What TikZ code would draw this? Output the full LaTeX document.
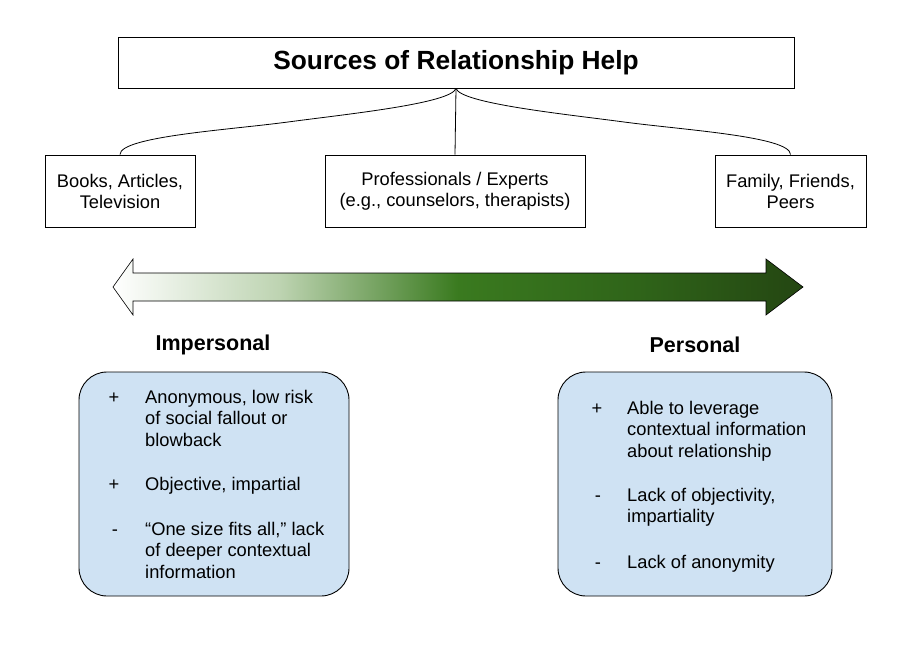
\documentclass[tikz,border=0pt]{standalone}
\usepackage{fontspec}
\setmainfont{Liberation Sans}
\definecolor{gmid}{RGB}{58,122,31}
\definecolor{glight}{RGB}{190,212,178}
\definecolor{gmd2}{RGB}{47,100,25}
\definecolor{gdark}{RGB}{36,70,18}
\definecolor{pale}{RGB}{207,226,243}
\pgfdeclarehorizontalshading{arrowgrad}{100bp}{color(0bp)=(white); color(25bp)=(white); color(37bp)=(glight); color(50bp)=(gmid); color(63bp)=(gmd2); color(75bp)=(gdark); color(100bp)=(gdark)}
\begin{document}
\begin{tikzpicture}[x=1pt,y=-1pt,
  box/.style={draw, line width=0.9pt, inner sep=0, align=center, font=\fontsize{18.3}{21}\selectfont},
  panel/.style={draw, line width=0.9pt, fill=pale, rounded corners=28pt, minimum height=224pt, inner sep=0},
  item/.style={anchor=north west, inner sep=0, align=left, font=\fontsize{18.3}{21.5}\selectfont},
  sign/.style={anchor=base, inner sep=0, font=\fontsize{18.3}{21.5}\selectfont},
  heading/.style={inner sep=0, font=\bfseries\fontsize{21.5}{25}\selectfont},
  link/.style={line width=0.8pt}]
\useasboundingbox (0,0) rectangle (916,650);

\node[box, minimum width=676pt, minimum height=51pt, font=\bfseries\fontsize{26.3}{30}\selectfont] (title) at (456,62.5) {Sources of Relationship Help};

\node[box, minimum width=150pt, minimum height=72pt] (books) at (120,191) {Books, Articles,\\Television};
\node[box, minimum width=260pt, minimum height=72pt] (pros) at (455,191) {Professionals / Experts\\(e.g., counselors, therapists)};
\node[box, minimum width=151pt, minimum height=72pt] (family) at (790.5,191) {Family, Friends,\\Peers};

\coordinate (mL) at (288,122);
\coordinate (mR) at (624,122);
\draw[link] (title.south) .. controls +(-5,15) and +(60,-8) .. (mL) .. controls +(-60,8) and +(0,-18) .. (books.north);
\draw[link] (title.south) .. controls +(5,15) and +(-60,-8) .. (mR) .. controls +(60,8) and +(0,-18) .. (family.north);
\draw[link] (title.south) -- (pros.north);

% gradient double arrow
\shade[shading=arrowgrad]
  (113,287) -- (133,259) -- (133,273) -- (766,273) -- (766,259) -- (803,287) -- (766,315) -- (766,301) -- (133,301) -- (133,315) -- cycle;
\draw[line width=0.6pt, line join=miter]
  (113,287) -- (133,259) -- (133,273) -- (766,273) -- (766,259) -- (803,287) -- (766,315) -- (766,301) -- (133,301) -- (133,315) -- cycle;

\node[heading] (imp) at (213,345) {Impersonal};
\node[heading] (per) at (695,345) {Personal};

\node[panel, minimum width=270pt] (left) at (214,484) {};
\node[panel, minimum width=274pt] (right) at (695,484) {};

\node[sign] (ls1) at (114,403) {+};
\node[item] (li1) at (145,390) {Anonymous, low risk\\of social fallout or\\blowback};
\node[sign] (ls2) at (114,490) {+};
\node[item] (li2) at (145,477) {Objective, impartial};
\node[sign] (ls3) at (115,535) {-};
\node[item] (li3) at (145,522) {“One size fits all,” lack\\of deeper contextual\\information};

\node[sign] (rs1) at (597,414) {+};
\node[item] (ri1) at (627,401) {Able to leverage\\contextual information\\about relationship};
\node[sign] (rs2) at (598,501) {-};
\node[item] (ri2) at (627,488) {Lack of objectivity,\\impartiality};
\node[sign] (rs3) at (598,568) {-};
\node[item] (ri3) at (627,555) {Lack of anonymity};
\end{tikzpicture}
\end{document}
